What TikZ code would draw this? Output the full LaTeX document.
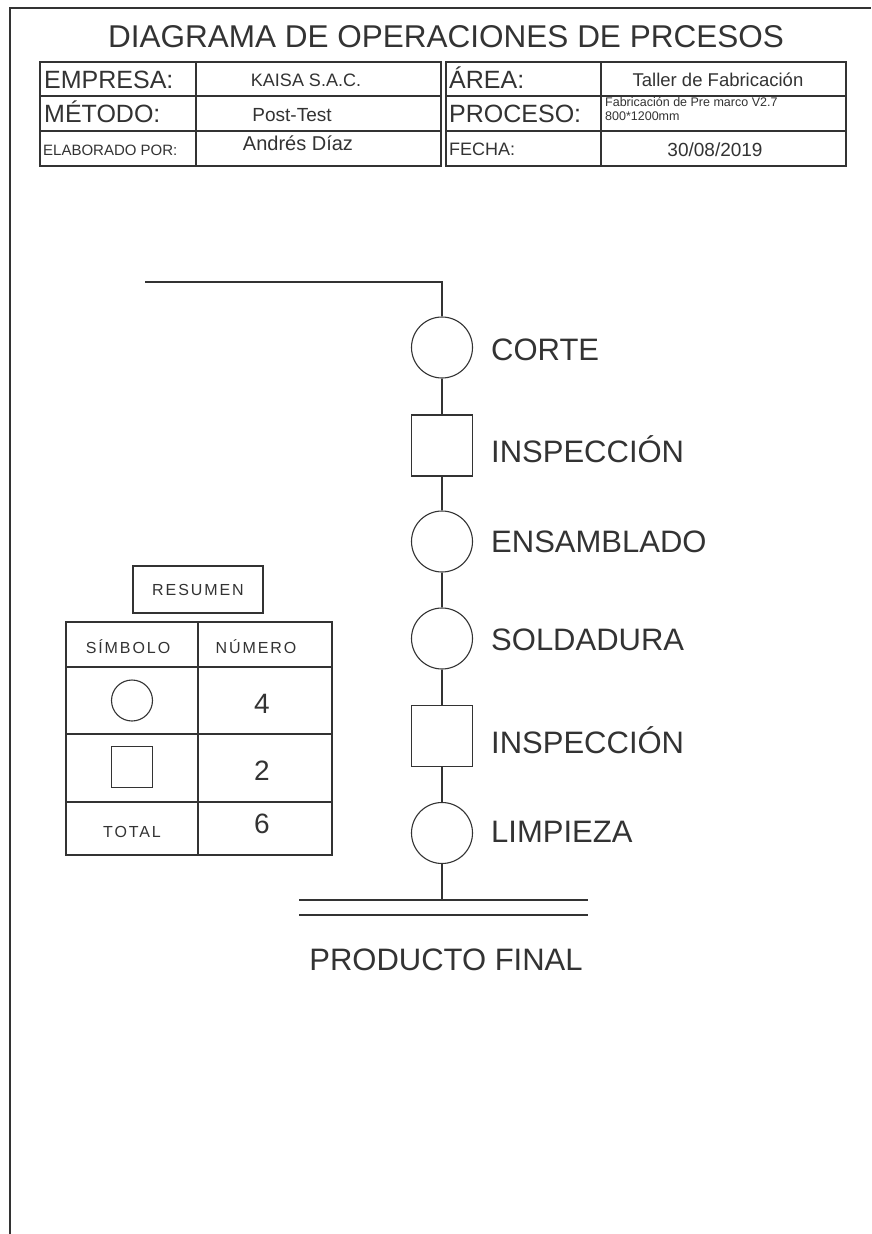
\documentclass[tikz,border=0pt]{standalone}
\usepackage{fontspec}
\setmainfont{Liberation Sans}
\newfontfamily\widefont[LetterSpace=12]{Liberation Sans}
\newcommand{\pxfont}[1]{\fontsize{#1}{#1}\selectfont}
\definecolor{ink}{HTML}{333333}
\begin{document}
\begin{tikzpicture}[x=1pt,y=-1pt,
  ln/.style={line width=1.3pt,draw=ink},
  frame/.style={line width=1.8pt,draw=ink},
  txt/.style={inner sep=0pt,text=ink,anchor=base},
  ltxt/.style={inner sep=0pt,text=ink,anchor=base west},
  opc/.style={circle,draw=ink,line width=1.1pt,minimum size=61pt,inner sep=0pt},
  insp/.style={rectangle,draw=ink,line width=1.1pt,minimum size=61pt,inner sep=0pt},
  lbl/.style={ltxt,font=\pxfont{31}},
  symc/.style={circle,draw=ink,line width=1.1pt,minimum size=41pt,inner sep=0pt},
  syms/.style={rectangle,draw=ink,line width=1.1pt,minimum size=41pt,inner sep=0pt}]
\fill[white] (0,0) rectangle (871,1234);
\useasboundingbox (0,0) rectangle (871,1234);
% page frame
\draw[frame] (10,1234) -- (10,8) -- (871,8);
% title
\node[txt,font=\pxfont{31.5}] (title) at (446,47) {DIAGRAMA DE OPERACIONES DE PRCESOS};
% left header table
\draw[ln] (40,62) rectangle (441,166);
\draw[ln] (196,62) -- (196,166);
\draw[ln] (40,96) -- (441,96);
\draw[ln] (40,131) -- (441,131);
% right header table
\draw[ln] (446,62) rectangle (846,166);
\draw[ln] (601,62) -- (601,166);
\draw[ln] (446,96) -- (846,96);
\draw[ln] (446,131) -- (846,131);
% header texts
\node[ltxt,font=\pxfont{25}] (empresa) at (44,88) {EMPRESA:};
\node[ltxt,font=\pxfont{25}] (metodo) at (44,122) {MÉTODO:};
\node[ltxt,font=\pxfont{15}] (elab) at (43,155) {ELABORADO POR:};
\node[txt,font=\pxfont{18}] (kaisa) at (306,86) {KAISA S.A.C.};
\node[txt,font=\pxfont{19}] (post) at (292,121) {Post-Test};
\node[txt,font=\pxfont{20}] (autor) at (298,150) {Andrés Díaz};
\node[ltxt,font=\pxfont{25}] (area) at (449,88) {ÁREA:};
\node[ltxt,font=\pxfont{25}] (proceso) at (449,122) {PROCESO:};
\node[ltxt,font=\pxfont{18}] (fecha) at (449,155) {FECHA:};
\node[txt,font=\pxfont{18.5}] (taller) at (718,86) {Taller de Fabricación};
\node[ltxt,font=\pxfont{12.5}] (proc1) at (605,106.5) {Fabricación de Pre marco V2.7};
\node[ltxt,font=\pxfont{12.5}] (proc2) at (605,120) {800*1200mm};
\node[txt,font=\pxfont{19}] (fechaval) at (715,156) {30/08/2019};
% summary
\draw[ln] (133,566) rectangle (263,613);
\node[txt,font=\widefont\pxfont{16}] (resumen) at (198,595) {RESUMEN};
\draw[ln] (66,622) rectangle (332,855);
\draw[ln] (198,622) -- (198,855);
\draw[ln] (66,667) -- (332,667);
\draw[ln] (66,734) -- (332,734);
\draw[ln] (66,802) -- (332,802);
\node[txt,font=\widefont\pxfont{16}] (simbolo) at (128,653) {SÍMBOLO};
\node[txt,font=\widefont\pxfont{16}] (numero) at (256,653) {NÚMERO};
\node[symc] (symC) at (132,700.5) {};
\node[syms] (symS) at (132,767) {};
\node[txt,font=\widefont\pxfont{16}] (total) at (132,837) {TOTAL};
\node[txt,font=\pxfont{28}] (n4) at (262,713) {4};
\node[txt,font=\pxfont{28}] (n2) at (262,780) {2};
\node[txt,font=\pxfont{28}] (n6) at (262,833) {6};
% flow
\coordinate (start) at (145,282);
\coordinate (corner) at (442,282);
\node[opc] (c1) at (442,347.5) {};
\node[insp] (s1) at (442,445.5) {};
\node[opc] (c2) at (442,541.5) {};
\node[opc] (c3) at (442,638.5) {};
\node[insp] (s2) at (442,736) {};
\node[opc] (c4) at (442,833) {};
\coordinate (end) at (442,900);
\draw[ln] (start) -- (corner) -- (c1);
\draw[ln] (c1) -- (s1);
\draw[ln] (s1) -- (c2);
\draw[ln] (c2) -- (c3);
\draw[ln] (c3) -- (s2);
\draw[ln] (s2) -- (c4);
\draw[ln] (c4) -- (end);
\coordinate (b1l) at (299,900);
\coordinate (b1r) at (588,900);
\coordinate (b2l) at (299,915);
\coordinate (b2r) at (588,915);
\draw[ln] (b1l) -- (b1r);
\draw[ln] (b2l) -- (b2r);
\node[lbl] (l1) at (491,360) {CORTE};
\node[lbl] (l2) at (491,462) {INSPECCIÓN};
\node[lbl] (l3) at (491,552) {ENSAMBLADO};
\node[lbl] (l4) at (491,650) {SOLDADURA};
\node[lbl] (l5) at (491,753) {INSPECCIÓN};
\node[lbl] (l6) at (491,842) {LIMPIEZA};
\node[txt,font=\pxfont{31}] (final) at (446,970) {PRODUCTO FINAL};
\end{tikzpicture}
\end{document}
